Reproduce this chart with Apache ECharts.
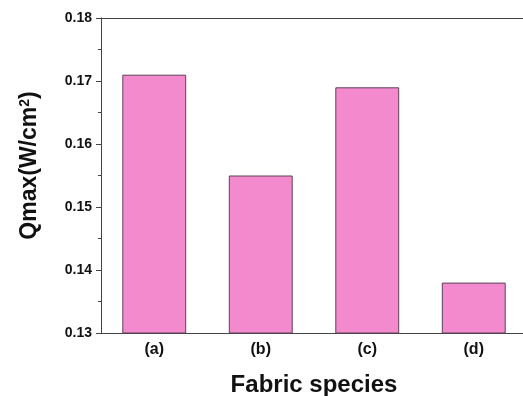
<!DOCTYPE html>
<html>
<head>
<meta charset="utf-8">
<script src="https://cdn.jsdelivr.net/npm/echarts@6/dist/echarts.min.js"></script>
<style>
  html, body { margin: 0; padding: 0; background: #fff; overflow: hidden; }
  #chart { width: 523px; height: 396px; }
</style>
</head>
<body>
<div id="chart"></div>
<script>
// Fabric samples and their peak heat flux
const categories = ['(a)', '(b)', '(c)', '(d)'];
const qmaxValues = [0.171, 0.155, 0.169, 0.138];
const yTicks = [0.13, 0.14, 0.15, 0.16, 0.17, 0.18];

const chart = echarts.init(document.getElementById('chart'));
const font = 'Liberation Sans, Arial, sans-serif';
const axisColor = '#444';

chart.setOption({
  animation: false,
  grid: {
    left: 101, top: 18, width: 426, height: 315,
    outerBoundsMode: 'none',
    containLabel: false,
    show: false
  },
  xAxis: [{
    type: 'category',
    data: categories,
    name: 'Fabric species',
    nameLocation: 'middle',
    nameGap: 40,
    nameTextStyle: { fontFamily: font, fontWeight: 'bold', fontSize: 24, color: '#111' },
    axisLine: { lineStyle: { color: axisColor, width: 1 } },
    axisTick: { inside: true, alignWithLabel: true, length: 4, lineStyle: { color: axisColor } },
    axisLabel: { fontFamily: font, fontWeight: 'bold', fontSize: 16, color: '#111', margin: 9 },
    splitLine: { show: false }
  }, {
    // plain frame line along the top of the plot
    type: 'category',
    data: categories,
    position: 'top',
    axisLine: { show: true, lineStyle: { color: axisColor, width: 1 } },
    axisTick: { show: false },
    axisLabel: { show: false },
    splitLine: { show: false }
  }],
  yAxis: {
    type: 'value',
    min: yTicks[0],
    max: yTicks[yTicks.length - 1],
    interval: 0.01,
    name: 'Qmax(W/cm{sup|2})',
    nameLocation: 'middle',
    nameGap: 60,
    nameTextStyle: {
      fontFamily: font, fontWeight: 'bold', fontSize: 23, color: '#111',
      padding: [0, 0, 0, 20],
      rich: {
        sup: { fontFamily: font, fontWeight: 'bold', fontSize: 14, color: '#111', verticalAlign: 'top', padding: [0, 0, 8, 0] }
      }
    },
    axisLine: { show: true, lineStyle: { color: axisColor, width: 1 } },
    axisTick: { show: true, inside: false, length: 5, lineStyle: { color: axisColor } },
    minorTick: { show: true, splitNumber: 2, length: 3, lineStyle: { color: axisColor } },
    axisLabel: {
      fontFamily: font, fontWeight: 'bold', fontSize: 14, color: '#111', margin: 9,
      formatter: v => v.toFixed(2)
    },
    splitLine: { show: false }
  },
  series: [{
    type: 'bar',
    xAxisIndex: 0,
    data: qmaxValues,
    barWidth: '60%',
    itemStyle: { color: '#F28ACD', borderColor: '#5e4256', borderWidth: 1 }
  }]
});
</script>
</body>
</html>
